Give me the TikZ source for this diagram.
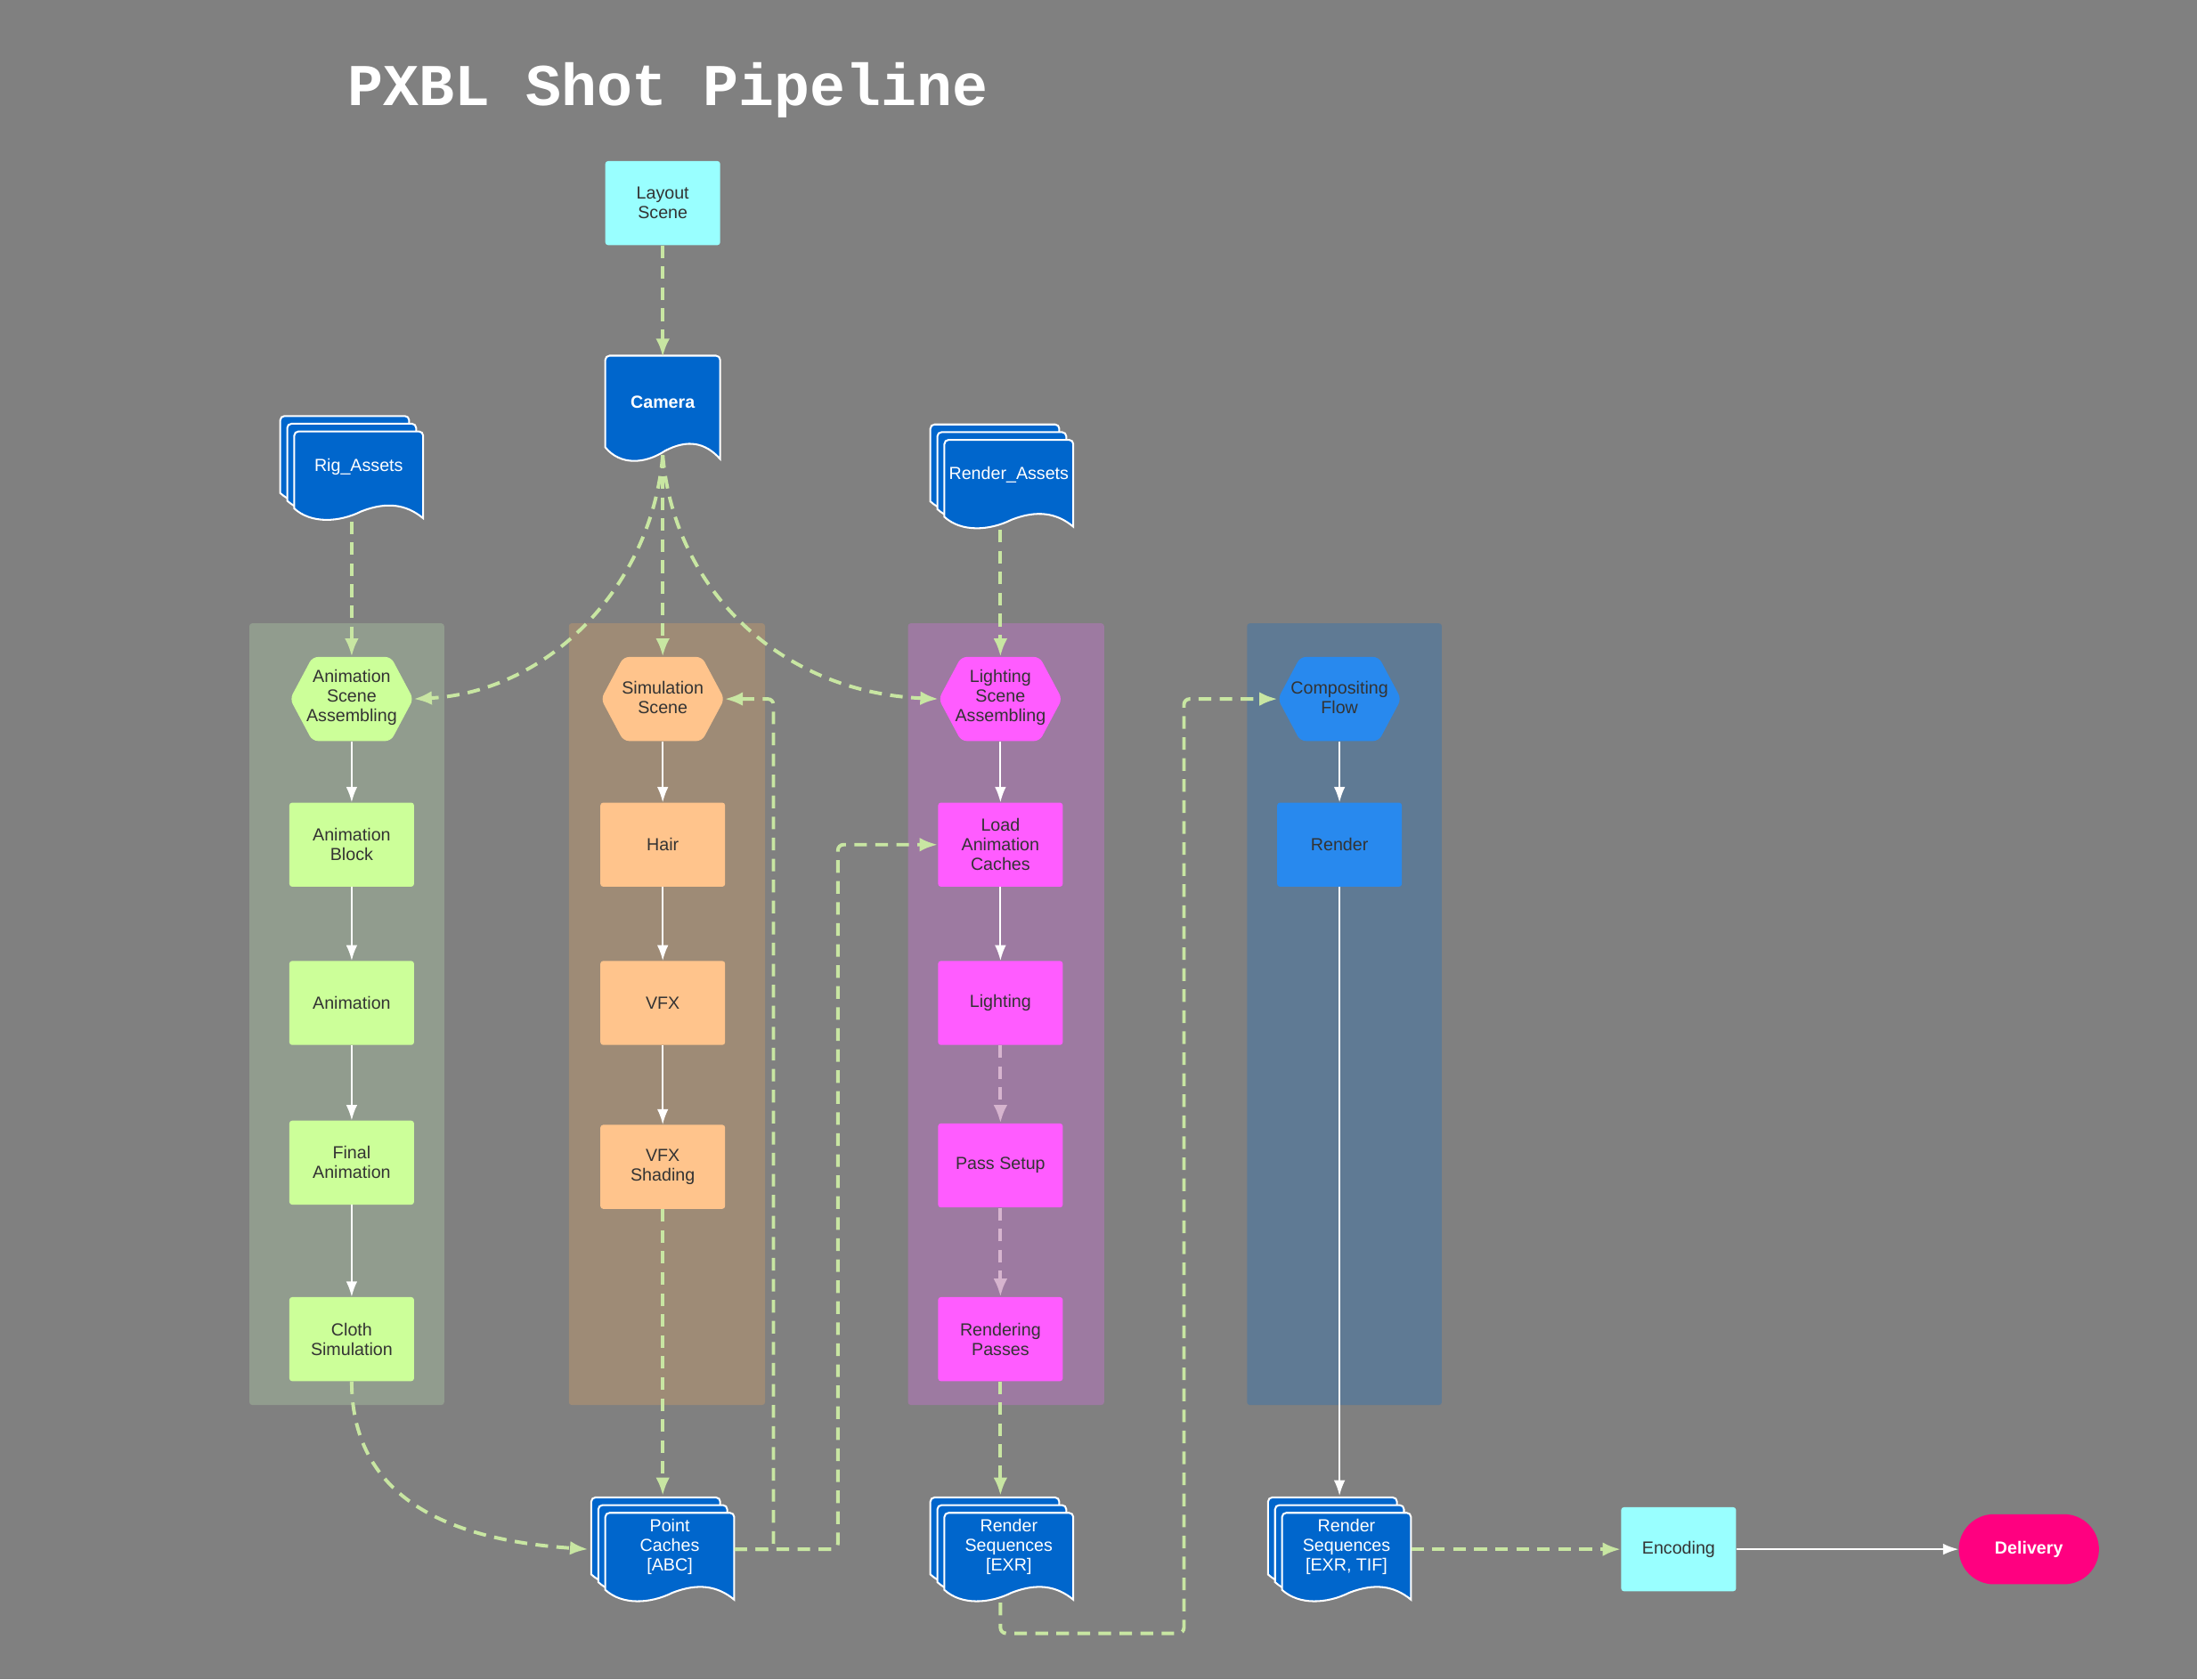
\documentclass[tikz,border=0pt]{standalone}
\usepackage{fontspec}
\setmainfont{Liberation Sans}
\newfontfamily\titlefont{Liberation Mono}
\usetikzlibrary{arrows.meta,calc}
\definecolor{bg}{HTML}{808080}
\definecolor{cgreen}{HTML}{CCFF99}
\definecolor{corange}{HTML}{FFC48C}
\definecolor{cpink}{HTML}{FF5CFF}
\definecolor{cblue}{HTML}{2889EE}
\definecolor{docblue}{HTML}{0066CC}
\definecolor{ccyan}{HTML}{99FFFF}
\definecolor{cdel}{HTML}{FF0080}
\definecolor{lgreen}{HTML}{919C8E}
\definecolor{lorange}{HTML}{9E8B76}
\definecolor{lpurple}{HTML}{9D7AA1}
\definecolor{lblue}{HTML}{5F7A94}
\definecolor{dgreen}{HTML}{C8E6A2}
\definecolor{dpink}{HTML}{D6B4CE}
\definecolor{txt}{HTML}{333333}
\newcommand\docat[3][]{% opts, node name, offset
\begin{scope}[shift={(#2.center)},shift={#3},#1]
\draw[white,line width=1.3pt,fill=docblue,rounded corners=3pt]
 (-46,-32) -- (46,-32) [sharp corners] -- (46,30)
 .. controls (34,20) and (20,18) .. (2,25)
 .. controls (-14,33) and (-34,34) .. (-46,23) [rounded corners=3pt] -- cycle;
\end{scope}}
\newcommand\docthree[1]{\docat{#1}{(-10,-11)}\docat{#1}{(-5,-5.5)}\docat{#1}{(0,0)}}
\newcommand\hexat[2]{% name, fill
\fill[#2,rounded corners=4pt] ($(#1.center)+(-44,0)$) -- ($(#1.center)+(-28,-30)$) -- ($(#1.center)+(28,-30)$) -- ($(#1.center)+(44,0)$) -- ($(#1.center)+(28,30)$) -- ($(#1.center)+(-28,30)$) -- cycle;}
\begin{document}
\begin{tikzpicture}[x=1pt,y=-1pt,
 every node/.style={font=\fontsize{12.5}{14}\selectfont,align=center,inner sep=0pt},
 box/.style={minimum width=89pt,minimum height=60pt,rounded corners=2pt,text=txt},
 hex/.style={minimum width=88pt,minimum height=60pt,text=txt},
 doc/.style={minimum width=92pt,minimum height=64pt,text=white},
 dsh/.style={dgreen,line width=2.5pt,dash pattern=on 9pt off 6pt,-{Latex[length=13pt,width=10pt]}},
 dshp/.style={dsh,dpink},
 sol/.style={white,line width=1.2pt,-{Latex[length=11pt,width=8pt]}}]
\fill[bg] (0,0) rectangle (1568,1199);
\useasboundingbox (0,0) rectangle (1568,1199);
\node[anchor=base west,font=\titlefont\bfseries\fontsize{42.3}{42}\selectfont,text=white] (title) at (248,75) {PXBL Shot Pipeline};
% lanes
\fill[lgreen,rounded corners=2pt] (178,445) rectangle (317,1003);
\fill[lorange,rounded corners=2pt] (406,445) rectangle (546,1003);
\fill[lpurple,rounded corners=2pt] (648,445) rectangle (788,1003);
\fill[lblue,rounded corners=2pt] (890,445) rectangle (1029,1003);
% top
\node[box,fill=ccyan,minimum width=82pt] (layout) at (473,145) {Layout\\Scene};
\node[minimum width=82pt,minimum height=76pt] (camera) at (473,292) {};
\docat[xscale=0.891,yscale=1.19]{camera}{(0,0)}
\node[text=white,font=\bfseries\fontsize{12.5}{14}\selectfont] (camtxt) at (473,287) {Camera};
\coordinate (camb) at (473,325);
\node[doc] (rig) at (256,340) {};
\docthree{rig}
\node[text=white] (rigt) at (256,333) {Rig\_Assets};
\node[doc] (rass) at (720,346) {};
\docthree{rass}
\node[text=white] (rasst) at (720,339) {Render\_Assets};
% hexes
\node[hex] (ash) at (251,499) {}; \hexat{ash}{cgreen}
\node[text=txt] at (251,498) {Animation\\Scene\\Assembling};
\node[hex] (ssh) at (473,499) {}; \hexat{ssh}{corange}
\node[text=txt] at (473,498) {Simulation\\Scene};
\node[hex] (lsh) at (714,499) {}; \hexat{lsh}{cpink}
\node[text=txt] at (714,498) {Lighting\\Scene\\Assembling};
\node[hex] (csh) at (956,499) {}; \hexat{csh}{cblue}
\node[text=txt] at (956,498) {Compositing\\Flow};
% boxes
\node[box,fill=cgreen] (ab) at (251,603) {Animation\\Block};
\node[box,fill=cgreen] (an) at (251,716) {Animation};
\node[box,fill=cgreen] (fa) at (251,830) {Final\\Animation};
\node[box,fill=cgreen] (cs) at (251,956) {Cloth\\Simulation};
\node[box,fill=corange] (hair) at (473,603) {Hair};
\node[box,fill=corange] (vfx) at (473,716) {VFX};
\node[box,fill=corange] (vfxs) at (473,833) {VFX\\Shading};
\node[box,fill=cpink] (lac) at (714,603) {Load\\Animation\\Caches};
\node[box,fill=cpink] (lig) at (714,716) {Lighting};
\node[box,fill=cpink] (ps) at (714,832) {Pass Setup};
\node[box,fill=cpink] (rp) at (714,956) {Rendering\\Passes};
\node[box,fill=cblue] (ren) at (956,603) {Render};
% bottom docs
\node[doc] (pc) at (478,1112) {};
\docthree{pc}
\node[text=white] at (478,1104) {Point\\Caches\\{[ABC]}};
\node[doc] (rse) at (720,1112) {};
\docthree{rse}
\node[text=white] at (720,1104) {Render\\Sequences\\{[EXR]}};
\node[doc] (rst) at (961,1112) {};
\docthree{rst}
\node[text=white] at (961,1104) {Render\\Sequences\\{[EXR, TIF]}};
\node[box,fill=ccyan,minimum width=82pt] (enc) at (1198,1106) {Encoding};
\node[minimum width=100pt,minimum height=50pt,rounded corners=25pt,fill=cdel,text=white,font=\bfseries\fontsize{12.5}{14}\selectfont] (del) at (1448,1106) {Delivery};
% connectors
\draw[dsh] (layout.south) -- ([yshift=-1pt]camera.north);
\draw[dsh] (camb) -- (ssh.north);
\draw[dsh] (camb) .. controls (465,420) and (390,494) .. (ash.east);
\draw[dsh] (camb) .. controls (481,420) and (556,494) .. (lsh.west);
\draw[dsh] (rig.south -| ash) -- (ash.north);
\draw[dsh] (rass.south -| lsh) -- (lsh.north);
\draw[sol] (ash.south) -- (ab.north);
\draw[sol] (ab) -- (an);
\draw[sol] (an) -- (fa);
\draw[sol] (fa) -- (cs);
\draw[sol] (ssh.south) -- (hair.north);
\draw[sol] (hair) -- (vfx);
\draw[sol] (vfx) -- (vfxs);
\draw[sol] (lsh.south) -- (lac.north);
\draw[sol] (lac) -- (lig);
\draw[dshp] (lig) -- (ps);
\draw[dshp] (ps) -- (rp);
\draw[dsh] (rp.south) -- ([yshift=12pt]rse.north -| rp);
\draw[dsh] (vfxs.south) -- ([yshift=12pt]pc.north -| vfxs);
\draw[dsh] (cs.south) .. controls (251,1075) and (330,1100) .. ([xshift=-12pt,yshift=6pt]pc.west);
\draw[dsh,rounded corners=4pt] ([yshift=6pt]pc.east) -- (552,1106) -- (552,499) -- (ssh.east);
\draw[dsh,rounded corners=4pt] ([yshift=6pt]pc.east) -- (598,1106) -- (598,603) -- (lac.west);
\draw[dsh,rounded corners=4pt] (rse.south -| rp) -- (714,1166) -- (845,1166) -- (845,499) -- (csh.west);
\draw[sol] (csh.south) -- (ren.north);
\draw[sol] (ren.south) -- ([yshift=12pt]rst.north -| ren);
\draw[dsh] ([yshift=6pt]rst.east) -- (enc.west);
\draw[sol] (enc.east) -- (del.west);
\end{tikzpicture}
\end{document}
